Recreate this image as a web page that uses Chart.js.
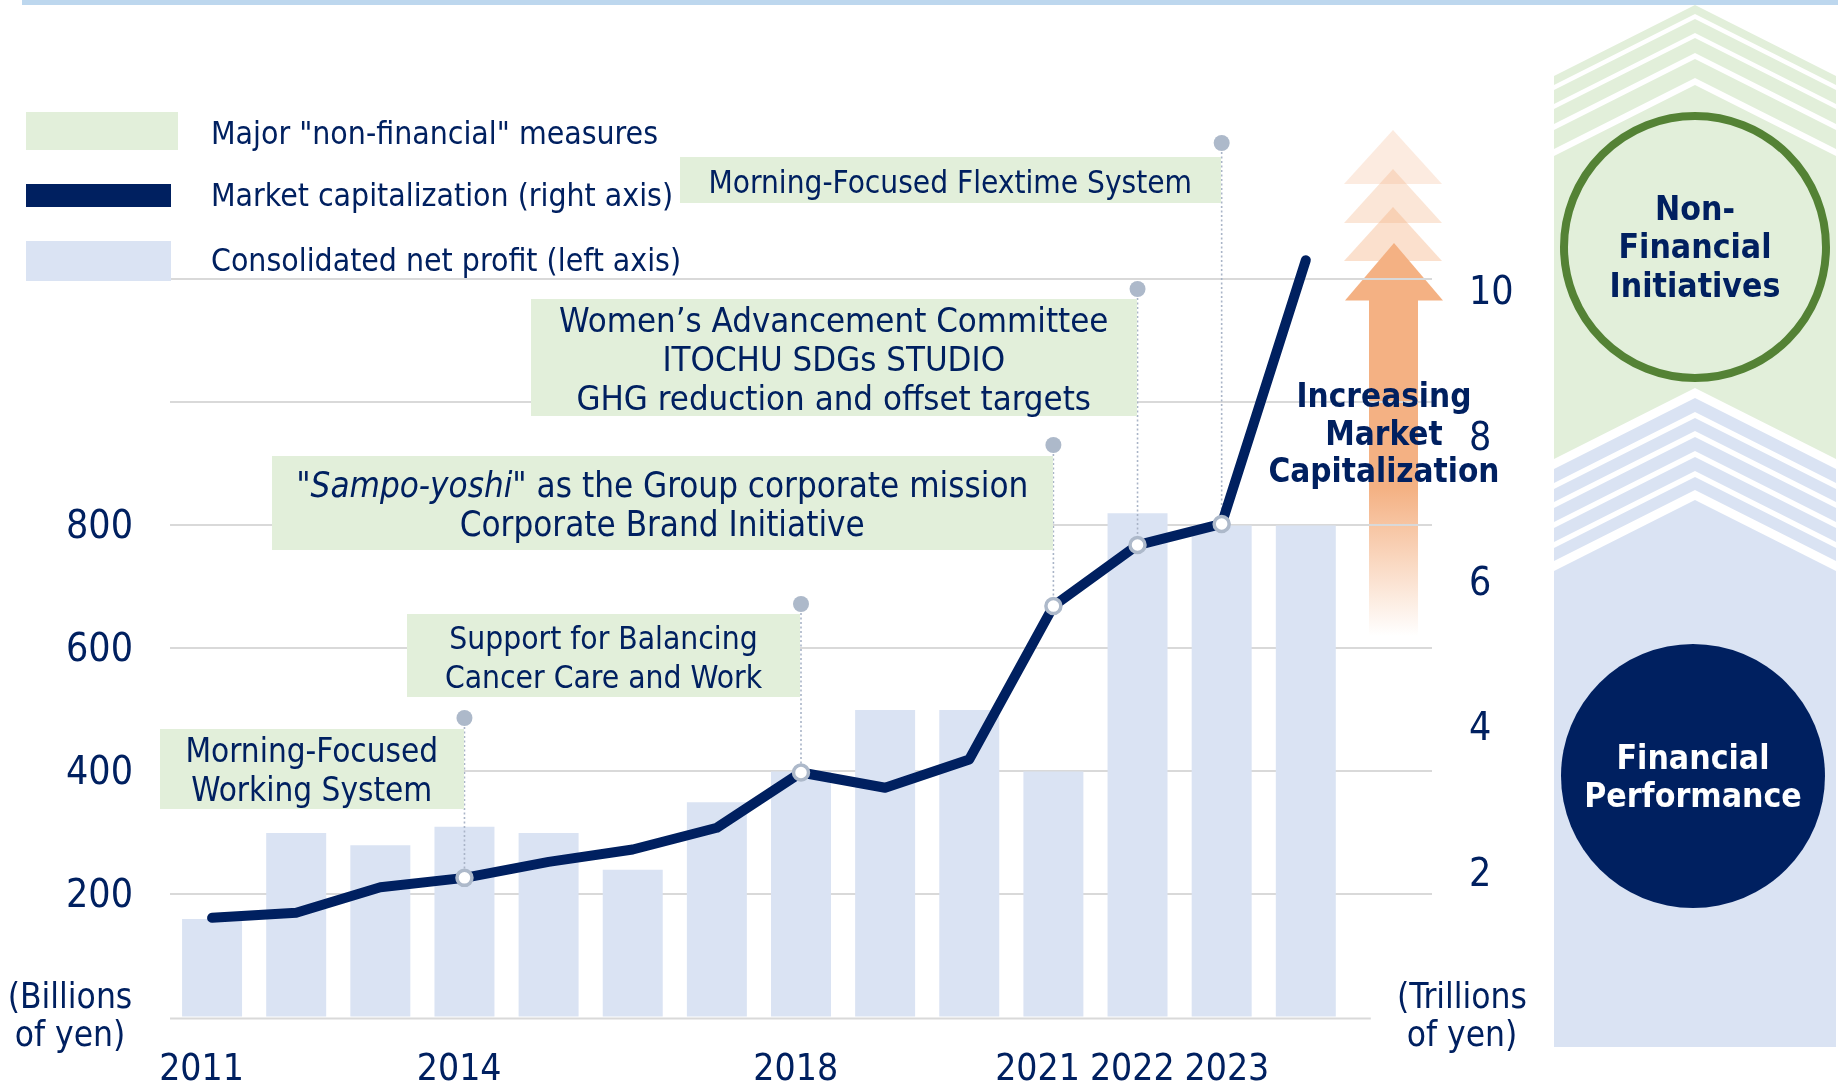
<!DOCTYPE html>
<html><head><meta charset="utf-8">
<script src="https://cdn.jsdelivr.net/npm/chart.js@4.4.1/dist/chart.umd.min.js"></script>
<style>
html,body{margin:0;padding:0;background:#fff;}
#wrap{position:relative;width:1838px;height:1084px;overflow:hidden;font-family:"DejaVu Sans Condensed","DejaVu Sans",sans-serif;color:#002060;}
#bg,#chart,#ov{position:absolute;left:0;top:0;}
#ov{width:1838px;height:1084px;}
.box{position:absolute;background:#e2efda;display:flex;flex-direction:column;justify-content:center;align-items:center;text-align:center;font-size:31px;line-height:38.7px;white-space:nowrap;}
.box > div{position:relative;top:2px;}
.lg{position:absolute;left:211px;font-size:31.7px;line-height:36px;white-space:nowrap;}
.sw{position:absolute;}
.t{position:absolute;white-space:nowrap;text-align:center;transform:translate(-50%,-50%);}
.b{font-weight:bold;font-size:33.5px;}
</style></head><body>
<div id="wrap">
<svg id="bg" width="1838" height="1084" xmlns="http://www.w3.org/2000/svg">
<defs>
<linearGradient id="shaft" x1="0" y1="300" x2="0" y2="636" gradientUnits="userSpaceOnUse">
<stop offset="0" stop-color="#f4b183"/>
<stop offset="0.56" stop-color="#f4b183"/>
<stop offset="1" stop-color="#f4b183" stop-opacity="0"/>
</linearGradient>
</defs>
<rect x="22" y="0" width="1816" height="5" fill="#bdd7ee"/>
<g id="panel"></g>
<polygon points="1344,184 1393,130 1442,184" fill="#f4b183" fill-opacity="0.25"/>
<polygon points="1344,223 1393,169 1442,223" fill="#f4b183" fill-opacity="0.32"/>
<polygon points="1344,261 1393,207 1442,261" fill="#f4b183" fill-opacity="0.4"/>
<polygon points="1345,300.5 1394,243 1443,300.5" fill="#f4b183"/>
<rect x="1369" y="300" width="49" height="337" fill="url(#shaft)"/>
<circle cx="1695" cy="247" r="131" fill="#e2efda" stroke="#548235" stroke-width="8"/>
<circle cx="1693" cy="776" r="132" fill="#002060"/>
</svg>
<canvas id="chart" width="1838" height="1084"></canvas>
<div id="ov">
  <div class="sw" style="left:26px;top:112px;width:152px;height:38px;background:#e2efda"></div>
  <div class="sw" style="left:26px;top:184px;width:145px;height:23px;background:#002060"></div>
  <div class="sw" style="left:26px;top:241px;width:145px;height:40px;background:#dae3f3"></div>
  <div class="lg" style="top:114.5px">Major "non-financial" measures</div>
  <div class="lg" style="top:176.5px">Market capitalization (right axis)</div>
  <div class="lg" style="top:241.5px">Consolidated net profit (left axis)</div>

  <div class="box" style="left:160px;top:729px;width:303.5px;height:80px;font-size:33px"><div>Morning-Focused</div><div>Working System</div></div>
  <div class="box" style="left:407px;top:614px;width:393px;height:83px;font-size:31.5px"><div>Support for Balancing</div><div>Cancer Care and Work</div></div>
  <div class="box" style="left:272px;top:456px;width:780.5px;height:94px;font-size:34.7px"><div>"<i>Sampo-yoshi</i>" as the Group corporate mission</div><div>Corporate Brand Initiative</div></div>
  <div class="box" style="left:531px;top:299px;width:605.5px;height:117px;font-size:34.5px"><div>Women’s Advancement Committee</div><div>ITOCHU SDGs STUDIO</div><div>GHG reduction and offset targets</div></div>
  <div class="box" style="left:680px;top:157px;width:540.5px;height:46px;font-size:31.3px"><div>Morning-Focused Flextime System</div></div>

  <div class="t" style="left:70px;top:1015px;font-size:35px;line-height:37.5px">(Billions<br>of yen)</div>
  <div class="t" style="left:1462px;top:1015px;font-size:35px;line-height:37.5px">(Trillions<br>of yen)</div>
  <div class="t b" style="left:1384px;top:433px;line-height:37.5px;font-size:33px">Increasing<br>Market<br>Capitalization</div>
  <div class="t b" style="left:1695px;top:247.5px;line-height:38.5px">Non-<br>Financial<br>Initiatives</div>
  <div class="t b" style="left:1693px;top:777.5px;line-height:38.7px;color:#fff">Financial<br>Performance</div>
</div>
</div>
<script>
// ---- data ----
const years = ['2011','2012','2013','2014','2015','2016','2017','2018','2019','2020','2021','2022','2023','2024'];
const netProfit = [160, 300, 280, 310, 300, 240, 350, 400, 500, 500, 400, 820, 800, 800];   // billions of yen (left axis)
const marketCap = [1.37, 1.44, 1.79, 1.92, 2.14, 2.31, 2.61, 3.37, 3.16, 3.55, 5.66, 6.50, 6.79, 10.42]; // trillions of yen (right axis)
const shownYears = ['2011','2014','2018','2021','2022','2023'];
const leftTicks = [0, 200, 400, 600, 800, 1000, 1200];
const leftLabels = [200, 400, 600, 800];
const rightTicks = [2, 4, 6, 8, 10];
const milestoneYears = ['2014','2018','2021','2022','2023'];
const milestoneDotY = [718, 604, 445, 289, 143];

// ---- decorative right panel (chevrons) ----
(function(){
  const g = document.getElementById('panel');
  const L = 1554, R = 1836, PX = 1695, D = 71;
  function band(yt, yb, fill){
    const p = document.createElementNS('http://www.w3.org/2000/svg','polygon');
    p.setAttribute('points', [L+','+(yt+D), PX+','+yt, R+','+(yt+D), R+','+(yb+D), PX+','+yb, L+','+(yb+D)].join(' '));
    p.setAttribute('fill', fill);
    g.appendChild(p);
  }
  const G = '#e2efda', B = '#dae3f3';
  [[5,14],[19,33],[38,53],[59,78]].forEach(b=>band(b[0],b[1],G));
  band(85, 388, G);
  [[398,412],[418,431],[437,451],[457,471],[477,490]].forEach(b=>band(b[0],b[1],B));
  const p = document.createElementNS('http://www.w3.org/2000/svg','polygon');
  p.setAttribute('points', [L+','+(500+D), PX+',500', R+','+(500+D), R+',1047', L+',1047'].join(' '));
  p.setAttribute('fill', B);
  g.appendChild(p);
})();

// ---- chart ----
const FONT = '"DejaVu Sans Condensed","DejaVu Sans",sans-serif';
const NAVY = '#002060';
const labels = years.concat(['']);
const markerIdx = milestoneYears.map(y => years.indexOf(y));
// label nudging (leading / trailing spaces) to reproduce the reference's label placement
const labelNudge = { '2011': [0, 2], '2014': [0, 1], '2018': [0, 1], '2021': [0, 3], '2022': [0, 1], '2023': [1, 0] };

const connectors = {
  id: 'connectors',
  beforeDatasetsDraw(chart){
    const ctx = chart.ctx, xs = chart.scales.x, yb = chart.scales.y.getPixelForValue(0);
    ctx.save();
    ctx.strokeStyle = '#d9d9d9'; ctx.lineWidth = 2;
    ctx.beginPath(); ctx.moveTo(chart.chartArea.left, yb + 1); ctx.lineTo(xs.getPixelForValue(years.length - 1) + 65, yb + 1); ctx.stroke();
    ctx.restore();
  },
  afterDatasetDraw(chart, args){
    if (args.meta.type !== 'bar') return;
    const ctx = chart.ctx, xs = chart.scales.x, ys = chart.scales.y1;
    ctx.save();
    markerIdx.forEach((i, k) => {
      const x = xs.getPixelForValue(i);
      const y = ys.getPixelForValue(marketCap[i]);
      ctx.strokeStyle = '#a9b4c7'; ctx.lineWidth = 1.6; ctx.setLineDash([2, 2.5]);
      ctx.beginPath(); ctx.moveTo(x, milestoneDotY[k]); ctx.lineTo(x, y); ctx.stroke();
      ctx.setLineDash([]);
      ctx.fillStyle = '#adb9ca';
      ctx.beginPath(); ctx.arc(x, milestoneDotY[k], 8, 0, Math.PI * 2); ctx.fill();
    });
    ctx.restore();
  }
};

new Chart(document.getElementById('chart'), {
  data: {
    labels: labels,
    datasets: [
      {
        type: 'line', label: 'Market capitalization (right axis)', data: marketCap, yAxisID: 'y1', order: 0,
        borderColor: NAVY, borderWidth: 10, tension: 0, borderCapStyle: 'round', borderJoinStyle: 'round',
        pointRadius: marketCap.map((v, i) => markerIdx.includes(i) ? 7.5 : 0),
        pointBackgroundColor: '#ffffff', pointBorderColor: '#adb9ca', pointBorderWidth: 3.5
      },
      {
        type: 'bar', label: 'Consolidated net profit (left axis)', data: netProfit, yAxisID: 'y', order: 1,
        backgroundColor: '#dae3f3', barPercentage: 0.713, categoryPercentage: 1.0
      }
    ]
  },
  options: {
    responsive: false, animation: false, devicePixelRatio: 1,
    events: [],
    layout: { padding: { top: 218, left: 0, right: 0, bottom: 0 } },
    plugins: { legend: { display: false }, tooltip: { enabled: false } },
    scales: {
      x: {
        type: 'category', offset: true,
        grid: { display: false }, border: { display: false },
        ticks: {
          autoSkip: false, maxRotation: 0, minRotation: 0, padding: 23, color: NAVY,
          font: { family: FONT, size: 37 },
          callback: function(v, i){
            const l = labels[i];
            if (!shownYears.includes(l)) return '';
            const n = labelNudge[l] || [0, 0];
            return ' '.repeat(n[0]) + l + ' '.repeat(n[1]);
          }
        },
        afterFit(s){ s.height = 66.6; }
      },
      y: {
        position: 'left', min: 0, max: 1300,
        afterBuildTicks(s){ s.ticks = leftTicks.map(v => ({ value: v })); },
        grid: { drawTicks: false, lineWidth: 2, color: c => (c.tick && c.tick.value === 0) ? 'rgba(0,0,0,0)' : '#d9d9d9' },
        border: { display: false },
        ticks: {
          padding: 37, labelOffset: 2.3, color: NAVY, font: { family: FONT, size: 39 },
          callback: v => leftLabels.includes(v) ? String(v) : ''
        },
        afterFit(s){ s.width = 170; }
      },
      y1: {
        position: 'right', min: 0, max: 11,
        afterBuildTicks(s){ s.ticks = rightTicks.map(v => ({ value: v })); },
        grid: { display: false, drawTicks: false }, border: { display: false },
        ticks: { padding: 37, labelOffset: 3.5, color: NAVY, font: { family: FONT, size: 39 } },
        afterFit(s){ s.width = 406; }
      }
    }
  },
  plugins: [connectors]
});
</script>
</body></html>
